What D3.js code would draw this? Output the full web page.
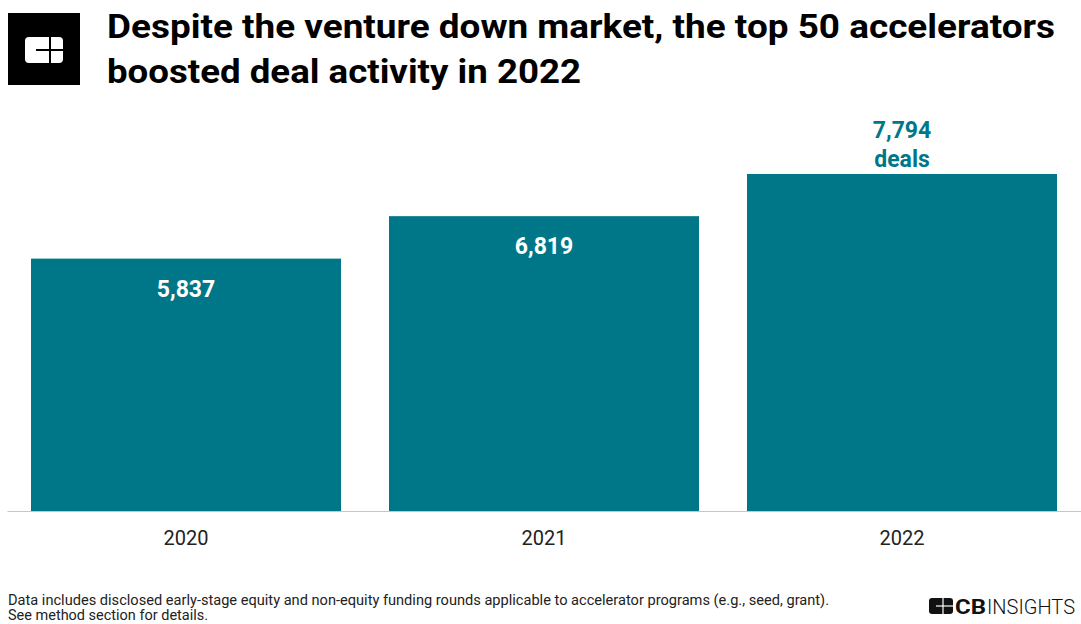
<!DOCTYPE html>
<html>
<head>
<meta charset="utf-8">
<script src="https://cdn.jsdelivr.net/npm/d3@7/dist/d3.min.js"></script>
<style>
  html, body { margin: 0; padding: 0; background: #fff; }
  svg { display: block; font-family: Roboto, "Noto Sans", Arial, sans-serif; }
</style>
</head>
<body>
<svg id="chart" width="1081" height="624"></svg>
<script>
// Yearly deal counts for the top 50 accelerators
const years = ["2020", "2021", "2022"];
const deals = [5837, 6819, 7794];
const titleLines = [
  "Despite the venture down market, the top 50 accelerators",
  "boosted deal activity in 2022"
];
const footnoteLines = [
  "Data includes disclosed early-stage equity and non-equity funding rounds applicable to accelerator programs (e.g., seed, grant).",
  "See method section for details."
];

const W = 1081, H = 624;
const teal = "#007788";
const svg = d3.select("#chart");

// Brand mark in the header
const logo = svg.append("g");
logo.append("rect").attr("x", 8).attr("y", 13).attr("width", 72).attr("height", 72).attr("fill", "#000");
logo.append("rect").attr("x", 25).attr("y", 37).attr("width", 38).attr("height", 26).attr("rx", 4).attr("fill", "#fff");
logo.append("line").attr("x1", 50).attr("x2", 50).attr("y1", 37).attr("y2", 63).attr("stroke", "#000").attr("stroke-width", 2);
logo.append("line").attr("x1", 36).attr("x2", 63).attr("y1", 50).attr("y2", 50).attr("stroke", "#000").attr("stroke-width", 2);

// Title (wide display setting)
const titleWidths = [948, 474];
svg.append("g").selectAll("text").data(titleLines).join("text")
  .attr("x", 107).attr("y", (d, i) => 38 + i * 45)
  .attr("font-size", 33).attr("font-weight", 700).attr("fill", "#000")
  .attr("textLength", (d, i) => titleWidths[i]).attr("lengthAdjust", "spacingAndGlyphs")
  .text(d => d);

// Scales
const x = d3.scaleBand().domain(years).range([7, 1081])
  .paddingInner(48 / 358).paddingOuter(24 / 358);
const y = d3.scaleLinear().domain([0, d3.max(deals)]).range([511, 174]);

const data = years.map((yr, i) => ({ year: yr, value: deals[i], last: i === years.length - 1 }));

// Bars
svg.append("g").selectAll("rect").data(data).join("rect")
  .attr("x", d => x(d.year)).attr("width", x.bandwidth())
  .attr("y", d => y(d.value)).attr("height", d => y(0) - y(d.value))
  .attr("fill", teal);

// Baseline / x axis
const xAxis = svg.append("g").attr("transform", `translate(0,${y(0)})`)
  .call(d3.axisBottom(x).tickSize(0).tickPadding(0));
xAxis.select(".domain").attr("stroke", "#c6c6c6").attr("stroke-width", 1.2);
xAxis.selectAll(".tick text")
  .attr("dy", 0).attr("y", 34)
  .attr("font-size", 20).attr("fill", "#222")
  .attr("font-family", "Roboto, sans-serif");

// Value labels
const fmt = d3.format(",");
const labels = svg.append("g").selectAll("g").data(data).join("g")
  .attr("transform", d => `translate(${x(d.year) + x.bandwidth() / 2},${y(d.value)})`);
labels.filter(d => !d.last).append("text")
  .attr("y", 38).attr("text-anchor", "middle")
  .attr("font-size", 23).attr("font-weight", 700).attr("fill", "#fff")
  .text(d => fmt(d.value));
const lastLabel = labels.filter(d => d.last);
lastLabel.append("text")
  .attr("y", -36).attr("text-anchor", "middle")
  .attr("font-size", 23).attr("font-weight", 700).attr("fill", teal)
  .text(d => fmt(d.value));
lastLabel.append("text")
  .attr("y", -7).attr("text-anchor", "middle")
  .attr("font-size", 23).attr("font-weight", 700).attr("fill", teal)
  .text("deals");

// Footnote
const footWidths = [821, 200];
svg.append("g").selectAll("text").data(footnoteLines).join("text")
  .attr("x", 8).attr("y", (d, i) => 605 + i * 15)
  .attr("font-size", 14).attr("fill", "#222")
  .attr("textLength", (d, i) => footWidths[i]).attr("lengthAdjust", "spacingAndGlyphs")
  .text(d => d);

// Footer brand
const brand = svg.append("g");
brand.append("rect").attr("x", 929).attr("y", 598).attr("width", 24).attr("height", 16).attr("rx", 3).attr("fill", "#111");
brand.append("line").attr("x1", 943).attr("x2", 943).attr("y1", 598).attr("y2", 614).attr("stroke", "#fff").attr("stroke-width", 1.2);
brand.append("line").attr("x1", 936).attr("x2", 953).attr("y1", 606).attr("y2", 606).attr("stroke", "#fff").attr("stroke-width", 1.2);
brand.append("text").attr("x", 955).attr("y", 614)
  .attr("font-size", 21).attr("font-weight", 700).attr("fill", "#111")
  .attr("textLength", 31).attr("lengthAdjust", "spacingAndGlyphs")
  .text("CB");
brand.append("text").attr("x", 987).attr("y", 614)
  .attr("font-size", 21).attr("font-weight", 300).attr("fill", "#111")
  .attr("textLength", 88).attr("lengthAdjust", "spacingAndGlyphs")
  .text("INSIGHTS");
</script>
</body>
</html>
